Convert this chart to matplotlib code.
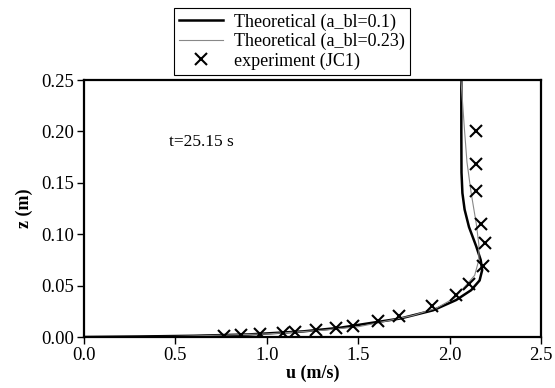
import matplotlib
matplotlib.use("Agg")
from matplotlib import pyplot as plt

# experiment (JC1) points
exp_u = [0.768, 0.859, 0.960, 1.088, 1.152, 1.271, 1.380, 1.472, 1.609, 1.723,
         1.905, 2.033, 2.106, 2.182, 2.191, 2.173, 2.142, 2.142, 2.142]
exp_z = [0.0013, 0.0023, 0.0033, 0.0040, 0.0046, 0.0066, 0.0089, 0.0110, 0.0155, 0.020,
         0.030, 0.0407, 0.0514, 0.069, 0.0918, 0.110, 0.142, 0.1686, 0.200]

# theoretical profile, a_bl = 0.1
thick_u = [0.0, 0.3, 0.6, 0.9, 1.2, 1.4, 1.6, 1.73, 1.91, 2.036, 2.118, 2.164,
           2.178, 2.17, 2.146, 2.106, 2.082, 2.07, 2.065, 2.064, 2.064]
thick_z = [0.0, 0.0005, 0.0012, 0.0025, 0.0055, 0.009, 0.0145, 0.018, 0.026, 0.036,
           0.0456, 0.055, 0.065, 0.075, 0.088, 0.107, 0.124, 0.14, 0.16, 0.2, 0.25]

# theoretical profile, a_bl = 0.23
thin_u = [0.0, 0.5, 1.0, 1.3, 1.5, 1.6, 1.8, 1.927, 2.027, 2.088, 2.137, 2.16,
          2.16, 2.146, 2.118, 2.095, 2.082, 2.07, 2.062]
thin_z = [0.0, 0.0006, 0.003, 0.0065, 0.010, 0.0135, 0.021, 0.028, 0.038, 0.05,
          0.06, 0.075, 0.09, 0.11, 0.14, 0.17, 0.2, 0.23, 0.25]

x_ticks = [0.0, 0.5, 1.0, 1.5, 2.0, 2.5]
y_ticks = [0.00, 0.05, 0.10, 0.15, 0.20, 0.25]

plt.rcParams["font.family"] = ["Liberation Serif", "DejaVu Serif"]


def main():
    fig = plt.figure(figsize=(5.55, 3.88), dpi=100)
    ax = fig.add_axes([0.1514, 0.1314, 0.8234, 0.6624])

    ax.plot(thick_u, thick_z, color="black", lw=1.8, label="Theoretical (a_bl=0.1)")
    ax.plot(thin_u, thin_z, color="#888888", lw=0.8, label="Theoretical (a_bl=0.23)")
    ax.plot(exp_u, exp_z, ls="none", marker="x", ms=9, mew=1.5, color="black",
            label="experiment (JC1)")

    ax.set_xlim(0, 2.5)
    ax.set_ylim(0, 0.25)
    ax.set_xticks(x_ticks)
    ax.set_yticks(y_ticks)
    ax.set_xticklabels([f"{v:.1f}" for v in x_ticks])
    ax.set_yticklabels([f"{v:.2f}" for v in y_ticks])
    ax.tick_params(direction="out", length=5, width=1, labelsize=13.5, pad=2)

    for s in ax.spines.values():
        s.set_linewidth(1.6)

    ax.set_xlabel("u (m/s)", fontsize=13, fontweight="bold", labelpad=1)
    ax.set_ylabel("z (m)", fontsize=13, fontweight="bold", labelpad=6)

    ax.text(0.465, 0.19, "t=25.15 s", fontsize=12.5, va="center")

    leg = fig.legend(loc="upper left", bbox_to_anchor=(0.3135, 0.979),
                     fancybox=False, framealpha=1, edgecolor="black",
                     fontsize=13, borderaxespad=0, borderpad=0.3,
                     labelspacing=0.12, handlelength=2.4, handletextpad=0.6)
    leg.get_frame().set_linewidth(0.8)

    fig.savefig("out.png", dpi=100)


if __name__ == "__main__":
    main()
